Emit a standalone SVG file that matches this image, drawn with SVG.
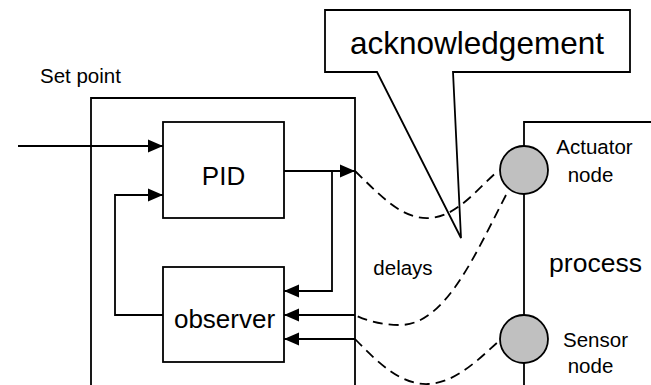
<svg xmlns="http://www.w3.org/2000/svg" width="651" height="385" viewBox="0 0 651 385">
<style>
.ln{fill:none;stroke:#000;stroke-width:1.8}
.box{fill:#fff;stroke:#000;stroke-width:1.8}
.dash{fill:none;stroke:#000;stroke-width:1.8;stroke-dasharray:10,6}
.circ{fill:#c0c0c0;stroke:#000;stroke-width:1.8}
text{font-family:"Liberation Sans",Arial,sans-serif;fill:#000}
</style>
<defs>
<marker id="ah" markerWidth="16" markerHeight="14" refX="15" refY="7" orient="auto" markerUnits="userSpaceOnUse">
<path d="M0,0.5 L15,7 L0,13.5 Z" fill="#000"/>
</marker>
</defs>
<rect width="651" height="385" fill="#fff"/>
<g id="controller">
<path class="ln" d="M91,385 V98 H355 V385"/>
</g>
<g id="setpoint-label"><text x="40" y="83" font-size="20.5">Set point</text></g>
<g id="pid">
<rect class="box" x="163" y="122" width="121" height="96"/>
<text x="223.5" y="185" font-size="26" text-anchor="middle">PID</text>
</g>
<g id="observer">
<rect class="box" x="163" y="267" width="121" height="95"/>
<text x="224.5" y="328" font-size="26" text-anchor="middle">observer</text>
</g>
<g id="callout">
<path class="box" d="M325,10 H630 V72 H453 L461,238 L377,72 H325 Z"/>
<text x="477" y="54" font-size="31.5" text-anchor="middle">acknowledgement</text>
</g>
<g id="process">
<path class="ln" d="M651,122 H524 V385"/>
<text x="595.5" y="272" font-size="26.5" text-anchor="middle">process</text>
</g>
<g id="actuator">
<circle class="circ" cx="524" cy="170" r="24"/>
<text x="594.5" y="154" font-size="20.5" text-anchor="middle">Actuator</text>
<text x="590.5" y="182" font-size="20.5" text-anchor="middle">node</text>
</g>
<g id="sensor">
<circle class="circ" cx="524" cy="339" r="24"/>
<text x="595.5" y="347" font-size="20.5" text-anchor="middle">Sensor</text>
<text x="590.5" y="373" font-size="20.5" text-anchor="middle">node</text>
</g>
<g id="delays-label"><text x="403" y="275" font-size="20.5" text-anchor="middle">delays</text></g>
<g id="connectors">
<path class="ln" d="M18,146 H163" marker-end="url(#ah)"/>
<path class="ln" d="M163,315 H115 V195 H163" marker-end="url(#ah)"/>
<path class="ln" d="M284,171 H355" marker-end="url(#ah)"/>
<path class="ln" d="M332,171 V291 H284" marker-end="url(#ah)"/>
<path class="ln" d="M355,315 H284" marker-end="url(#ah)"/>
<path class="ln" d="M355,339 H284" marker-end="url(#ah)"/>
<path class="dash" d="M355,171 C380,195 402,220 430,218 C458,216 478,188 498,171"/>
<path class="dash" d="M506,195 C475,255 445,325 400,325 C380,325 365,320 355,315"/>
<path class="dash" d="M355,339 C380,365 402,385 428,384 C455,383 478,360 499,341"/>
</g>
</svg>
